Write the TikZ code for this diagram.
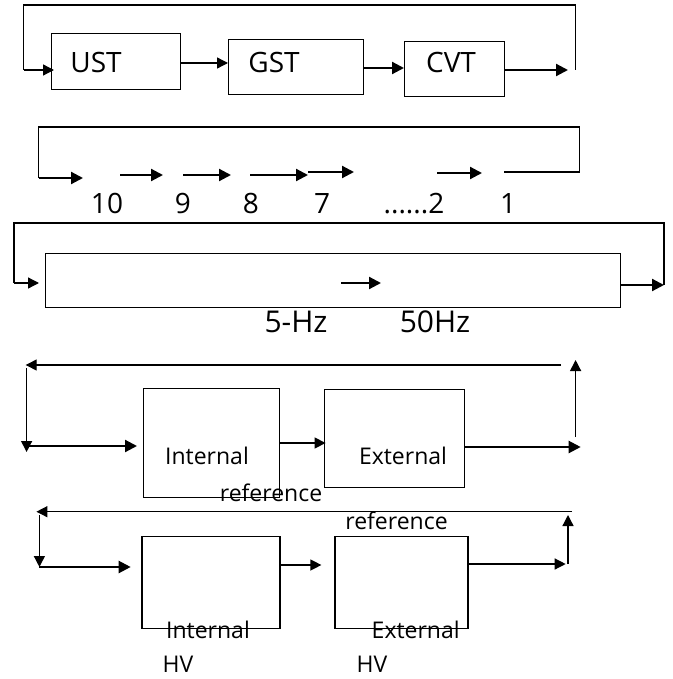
\documentclass[tikz,border=0pt]{standalone}
\usepackage{fontspec}
\setmainfont{Open Sans}
\usetikzlibrary{arrows.meta}
\begin{document}
\begin{tikzpicture}[x=1pt,y=-1pt,
  box/.style={draw, line width=1.3pt, inner sep=0pt, anchor=north west},
  ln/.style={line width=1.3pt},
  arr/.style={line width=1.3pt, -{Triangle[length=11pt,width=11pt]}},
  tarr/.style={line width=2.2pt, -{Triangle[length=12pt,width=12pt]}},
  lab/.style={inner sep=0pt, font=\fontsize{23}{26}\selectfont},
  big/.style={inner sep=0pt, font=\fontsize{28}{32}\selectfont}]
\useasboundingbox (0,0) rectangle (672,679);
% ---------- row 1 ----------
\node[box, minimum width=129pt, minimum height=56pt] (ust) at (51,33) {};
\node[box, minimum width=135pt, minimum height=55pt] (gst) at (228,39) {};
\node[box, minimum width=100pt, minimum height=55pt] (cvt) at (404,41) {};
\node[big] (tust) at (96,63) {UST};
\node[big] (tgst) at (274,63) {GST};
\node[big] (tcvt) at (451,63) {CVT};
\coordinate (l1a) at (23.6,70);
\coordinate (l1b) at (23.6,5);
\coordinate (l1c) at (575.6,5);
\coordinate (l1d) at (575.6,70);
\coordinate (a2) at (0,68);
\coordinate (o1) at (568,70);
\draw[ln] (l1d) -- (l1c) -- (l1b) -- (l1a);
\draw[arr] (l1a) -- ([xshift=3pt]ust.west |- l1a);
\draw[arr] (ust.east |- tust) -- (gst.west |- tust);
\draw[tarr] (gst.east |- a2) -- (cvt.west |- a2);
\draw[tarr] (cvt.east |- o1) -- (o1);
% ---------- row 2 ----------
\coordinate (r2tl) at (38.6,127);
\coordinate (r2tr) at (579.5,127);
\coordinate (r2bl) at (38.6,178);
\coordinate (r2br) at (579.5,172);
\coordinate (r2e) at (503.6,172);
\draw[ln] (r2bl) -- (r2tl) -- (r2tr) -- (r2br) -- (r2e);
\coordinate (s1) at (83,178);
\coordinate (s2a) at (120,175); \coordinate (s2b) at (163,175);
\coordinate (s3a) at (183,175); \coordinate (s3b) at (231,175);
\coordinate (s4a) at (250,175); \coordinate (s4b) at (308,175);
\coordinate (s5a) at (308,172); \coordinate (s5b) at (354,172);
\coordinate (s6a) at (437,173); \coordinate (s6b) at (482,173);
\draw[tarr] (r2bl) -- (s1);
\draw[tarr] (s2a) -- (s2b);
\draw[tarr] (s3a) -- (s3b);
\draw[tarr] (s4a) -- (s4b);
\draw[tarr] (s5a) -- (s5b);
\draw[tarr] (s6a) -- (s6b);
\node[big, anchor=base] (n10) at (107,213) {10};
\node[big, anchor=base] (n9) at (183,213) {9};
\node[big, anchor=base] (n8) at (251,213) {8};
\node[big, anchor=base] (n7) at (322,213) {7};
\node[big, anchor=base] (n2) at (414,213) {......2};
\node[big, anchor=base] (n1) at (508,213) {1};
% ---------- row 3 ----------
\node[box, minimum width=575pt, minimum height=54pt] (band) at (45,253) {};
\coordinate (r3tl) at (14,223);
\coordinate (r3tr) at (664,223);
\coordinate (r3bl) at (14,283);
\coordinate (r3br) at (664,285);
\coordinate (r3in) at (39,283);
\draw[ln] (r3bl) -- (r3tl) -- (r3tr) -- (r3br);
\draw[arr] (r3bl) -- (r3in);
\coordinate (m3a) at (341,283); \coordinate (m3b) at (381,283);
\draw[tarr] (m3a) -- (m3b);
\draw[tarr] (band.east |- r3br) -- (r3br);
\node[big, font=\fontsize{30}{34}\selectfont] (hz5) at (296,322) {5-Hz};
\node[big, font=\fontsize{30}{34}\selectfont] (hz50) at (435,322) {50Hz};
% ---------- row 4 ----------
\node[box, minimum width=136pt, minimum height=109pt] (intr) at (142.7,387.7) {};
\node[box, minimum width=140pt, minimum height=98pt] (extr) at (323.6,389) {};
\coordinate (r4tr) at (561,365);
\coordinate (r4tl) at (25.7,365);
\coordinate (r4va) at (26.6,368);
\coordinate (r4vb) at (26.6,452);
\coordinate (r4ha) at (26.6,446);
\coordinate (r4hb) at (137,446);
\draw[arr] (r4tr) -- (r4tl);
\draw[arr] (r4va) -- (r4vb);
\draw[tarr] (r4ha) -- (r4hb);
\coordinate (r4m) at (0,443);
\draw[arr] (intr.east |- r4m) -- ([xshift=2pt]extr.west |- r4m);
\coordinate (r4o) at (580.7,447);
\draw[tarr] (extr.east |- r4o) -- (r4o);
\coordinate (r4ua) at (575.6,437);
\coordinate (r4ub) at (575.6,360);
\draw[arr] (r4ua) -- (r4ub);
\node[lab] (tint1) at (207,456) {Internal};
\node[lab] (text1) at (403,456) {External};
\node[lab] (tref1) at (271,493) {reference};
\node[lab] (tref2) at (396.5,521) {reference};
% ---------- row 5 ----------
\node[box, minimum width=138pt, minimum height=92pt] (inhv) at (141.4,535.7) {};
\node[box, minimum width=133pt, minimum height=92pt] (exhv) at (334.3,535.7) {};
\coordinate (r5tr) at (572,511.7);
\coordinate (r5tl) at (36.4,511.7);
\coordinate (r5va) at (39.4,515);
\coordinate (r5vb) at (39.4,567);
\coordinate (r5hb) at (130.7,567);
\draw[arr] (r5tr) -- (r5tl);
\draw[arr] (r5va) -- (r5vb);
\draw[tarr] (r5vb) -- (r5hb);
\coordinate (r5m) at (321.4,565);
\draw[arr] (inhv.east |- r5m) -- (r5m);
\coordinate (r5o) at (565.7,564);
\draw[arr] (exhv.east |- r5o) -- (r5o);
\coordinate (r5ua) at (568,564);
\coordinate (r5ub) at (568,515);
\draw[arr] (r5ua) -- (r5ub);
\node[lab] (tint2) at (208,630) {Internal};
\node[lab] (text2) at (415.7,630) {External};
\node[lab] (thv1) at (178,664) {HV};
\node[lab] (thv2) at (372,664) {HV};
\end{tikzpicture}
\end{document}
